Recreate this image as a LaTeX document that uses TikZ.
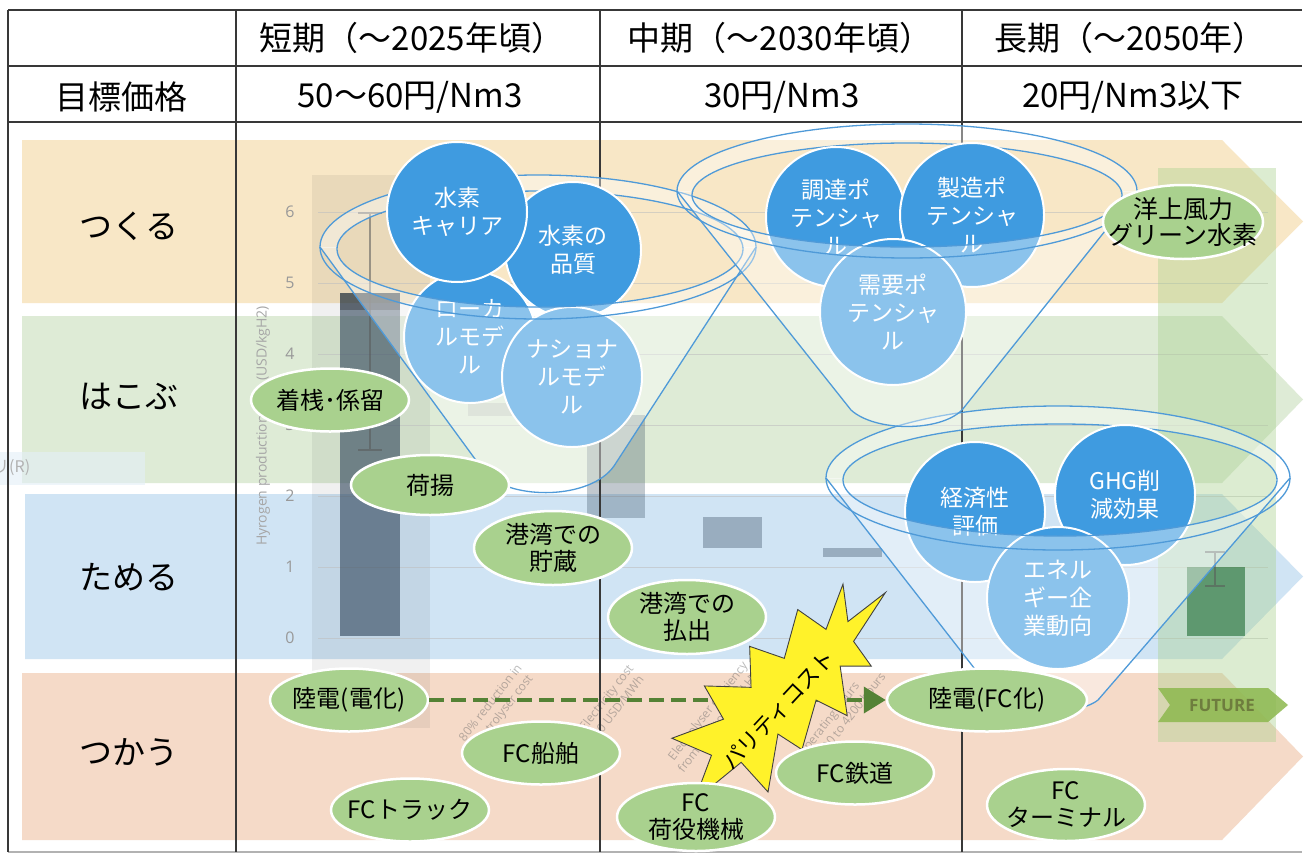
\documentclass[tikz,border=0pt]{standalone}
\usepackage{fontspec}
\setmainfont{Noto Sans CJK JP}
\newfontfamily\latfont{Open Sans}
\usetikzlibrary{arrows.meta,shapes.geometric}
\definecolor{bbeige}{HTML}{F8E7C6}
\definecolor{bgreen}{HTML}{DEEBD6}
\definecolor{bblue}{HTML}{D0E4F4}
\definecolor{bpeach}{HTML}{F5DAC8}
\definecolor{cblue}{HTML}{3F9BE0}
\definecolor{fline}{HTML}{4F9AD8}
\definecolor{egreen}{HTML}{A9D18E}
\definecolor{dgreen}{HTML}{548235}
\definecolor{slate}{HTML}{34495E}
\definecolor{burstyellow}{HTML}{FFF22A}
\definecolor{futgreen}{HTML}{8CB84E}
\definecolor{futtext}{HTML}{6E7D3E}
\definecolor{bargreen}{HTML}{1E6B32}
\begin{document}
\begin{tikzpicture}[x=1pt,y=-1pt,
  tline/.style={draw=black!78, line width=1.3pt},
  hdr/.style={font=\fontsize{33}{38}\selectfont, inner sep=0pt},
  blabel/.style={font=\fontsize{33}{38}\selectfont, inner sep=0pt},
  fun/.style={draw=fline, line width=1.3pt},
  funfill/.style={fill=white, fill opacity=0.4, even odd rule},
  circ/.style={circle, fill=cblue, draw=white, line width=2pt, text=white, inner sep=0pt, align=center, minimum size=140pt, font=\fontsize{23}{28}\selectfont},
  gell/.style={ellipse, fill=egreen, draw=white, line width=2.5pt, inner xsep=-12pt, inner ysep=0pt, align=center, minimum width=158pt, minimum height=63pt, font=\fontsize{24}{27}\selectfont},
  darr/.style={draw=dgreen, line width=4pt, dash pattern=on 15pt off 7pt, -{Triangle[length=22pt,width=26pt]}},
  chartlbl/.style={font=\latfont\fontsize{12}{15}\selectfont, text=black!60, text opacity=0.45, align=center, rotate=52},
  ticklbl/.style={font=\latfont\fontsize{16}{18}\selectfont, text=black!40},
  gridln/.style={draw=black!25, line width=1pt, opacity=0.6},
  errbar/.style={draw=black!65, line width=1.6pt, opacity=0.55},
  burststyle/.style={fill=burstyellow, draw=black!75, line width=0.9pt}
]
\useasboundingbox (0,0) rectangle (1308,854);
\fill[white] (0,0) rectangle (1308,854);

% ---------- bands ----------
\fill[bbeige] (22,140) -- (1222,140) -- (1303,221.5) -- (1222,303) -- (22,303) -- cycle;
\fill[bgreen] (22,316) -- (1222,316) -- (1303,399.5) -- (1222,483) -- (22,483) -- cycle;
\fill[bblue] (25,494) -- (1222,494) -- (1303,576.5) -- (1222,659) -- (25,659) -- cycle;
\fill[bpeach] (22,673) -- (1222,673) -- (1303,756.5) -- (1222,840) -- (22,840) -- cycle;

% faint box at left
\fill[bblue!60!white, opacity=0.6] (0,452) rectangle (145,485);
\node[anchor=west, font=\fontsize{16}{18}\selectfont, text=black!30, inner sep=0pt] (rmark) at (-7,468) {リ(R)};

% ---------- faded chart ----------
\fill[black, opacity=0.06] (312,175) rectangle (430,728);
\foreach \yy in {212,283,354,425,496,567,638} \draw[gridln] (318,\yy) -- (1268,\yy);
\foreach \v/\yy in {0/638,1/567,2/496,3/425,4/354,5/283,6/212} \node[ticklbl] (tk\v) at (290,\yy) {\v};
\node[font=\latfont\fontsize{14}{16}\selectfont, text=black!35, rotate=90] (ytitle) at (263,426) {Hyrogen production cost (USD/kgH2)};
\fill[slate, opacity=0.62] (340,293) rectangle (400,636);
\fill[black, opacity=0.25] (340,293) rectangle (400,310);
\draw[errbar] (370,213) -- (370,450) (358,213) -- (382,213) (358,450) -- (382,450);
\fill[black!40, opacity=0.3] (468,403) rectangle (512,416);
\fill[slate, opacity=0.3] (587,415) rectangle (645,518);
\fill[slate, opacity=0.35] (703,517) rectangle (762,548);
\fill[slate, opacity=0.35] (823,548) rectangle (882,557);
\fill[egreen, opacity=0.4] (1158,168) rectangle (1276,742);
\fill[bargreen, opacity=0.6] (1187,567) rectangle (1245,636);
\draw[errbar] (1215,552) -- (1215,586) (1205,552) -- (1225,552) (1205,586) -- (1225,586);
\fill[futgreen, opacity=0.85] (1158,688) -- (1268,688) -- (1288,705) -- (1268,722) -- (1158,722) -- (1170,705) -- cycle;
\node[font=\latfont\bfseries\fontsize{17}{19}\selectfont, text=futtext] (future) at (1222,706) {FUTURE};
\node[chartlbl] (cl1) at (497,708) {80\% reduction in\\electrolyser cost};
\node[chartlbl] (cl2) at (612,702) {Electricity cost\\20 USD/MWh};
\node[chartlbl] (cl3) at (714,716) {Electrolyser efficiency\\from 65\% to 76\% (LHV)};
\node[chartlbl] (cl4) at (834,724) {Operating hours\\from 3200 to 4200 hours};

% ---------- table ----------
\draw[tline] (8,10) -- (1302,10);
\draw[tline] (8,66) -- (1302,66);
\draw[tline] (8,122) -- (1302,122);
\draw[draw=black!30, line width=1.3pt] (8,852) -- (1302,852);
\draw[tline] (8,10) -- (8,852);
\draw[tline] (236,10) -- (236,852);
\draw[tline] (600,10) -- (600,852);
\draw[tline] (962,10) -- (962,852);

\node[hdr] (h1) at (412,38) {短期（～2025年頃）};
\node[hdr] (h2) at (780,38) {中期（～2030年頃）};
\node[hdr] (h3) at (1130,38) {長期（～2050年）};
\node[hdr] (r0) at (121,97) {目標価格};
\node[hdr] (r1) at (410,97) {50～60円/Nm3};
\node[hdr] (r2) at (782,97) {30円/Nm3};
\node[hdr] (r3) at (1133,97) {20円/Nm3以下};

\node[blabel] (lb1) at (129,226) {つくる};
\node[blabel] (lb2) at (129,396) {はこぶ};
\node[blabel] (lb3) at (129,577) {ためる};
\node[blabel] (lb4) at (129,752) {つかう};

% ---------- funnels: back halves ----------
\begin{scope}
  \clip (0,0) rectangle (1308,247);
  \fill[funfill] (320,247) .. controls (320,207.2) and (417.6,175) .. (538,175) .. controls (658.4,175) and (756,207.2) .. (756,247) -- (614,466) .. controls (590,500) and (512,500) .. (486,474) -- cycle (540,249) ellipse [x radius=203, y radius=58];
  \draw[fun] (538,247) ellipse [x radius=218, y radius=72];
  \draw[fun] (540,249) ellipse [x radius=203, y radius=58];
\end{scope}
\begin{scope}
  \clip (0,0) rectangle (1308,191);
  \fill[funfill] (677,191) .. controls (677,154) and (780,124) .. (907,124) .. controls (1034,124) and (1137,154) .. (1137,191) -- (962,410) .. controls (940,432) and (875,432) .. (851,410) -- cycle (907,195) ellipse [x radius=215, y radius=52];
  \draw[fun] (907,191) ellipse [x radius=230, y radius=67];
  \draw[fun] (907,195) ellipse [x radius=215, y radius=52];
\end{scope}
\begin{scope}
  \clip (0,0) rectangle (1308,478);
  \fill[funfill] (826,478) .. controls (826,438.2) and (930,406) .. (1058,406) .. controls (1186,406) and (1290,438.2) .. (1290,478) -- (1098,700) .. controls (1075,718) and (1005,715) .. (985,682) -- cycle (1060,480) ellipse [x radius=217, y radius=56];
  \draw[fun] (1058,478) ellipse [x radius=232, y radius=72];
  \draw[fun] (1060,480) ellipse [x radius=217, y radius=56];
\end{scope}

% ---------- circles ----------
\node[circ, minimum size=132pt] (c1) at (470,337) {ローカ\\ルモデ\\ル};
\node[circ, minimum size=136pt] (c2) at (573,250) {水素の\\品質};
\node[circ] (c3) at (572,377) {ナショナ\\ルモデ\\ル};
\node[circ] (c4) at (457,212) {水素\\キャリア};
\node[circ] (c5) at (836,217) {調達ポ\\テンシャ\\ル};
\node[circ, minimum size=144pt] (c6) at (972,215) {製造ポ\\テンシャ\\ル};
\node[circ, minimum size=146pt] (c7) at (893,312) {需要ポ\\テンシャ\\ル};
\node[circ] (c8) at (975,512) {経済性\\評価};
\node[circ] (c9) at (1125,495) {GHG削\\減効果};
\node[circ, minimum size=142pt] (c10) at (1058,598) {エネル\\ギー企\\業動向};

% ---------- funnels: front halves ----------
\begin{scope}
  \clip (0,247) rectangle (1308,854);
  \fill[funfill] (320,247) .. controls (320,207.2) and (417.6,175) .. (538,175) .. controls (658.4,175) and (756,207.2) .. (756,247) -- (614,466) .. controls (590,500) and (512,500) .. (486,474) -- cycle (540,249) ellipse [x radius=203, y radius=58];
  \draw[fun] (538,247) ellipse [x radius=218, y radius=72];
  \draw[fun] (540,249) ellipse [x radius=203, y radius=58];
  \draw[fun] (756,247) -- (614,466) .. controls (590,500) and (512,500) .. (486,474) -- (320,247);
\end{scope}
\begin{scope}
  \clip (0,191) rectangle (1308,854);
  \fill[funfill] (677,191) .. controls (677,154) and (780,124) .. (907,124) .. controls (1034,124) and (1137,154) .. (1137,191) -- (962,410) .. controls (940,432) and (875,432) .. (851,410) -- cycle (907,195) ellipse [x radius=215, y radius=52];
  \draw[fun] (907,191) ellipse [x radius=230, y radius=67];
  \draw[fun] (907,195) ellipse [x radius=215, y radius=52];
  \draw[fun] (1137,191) -- (962,410) .. controls (940,432) and (875,432) .. (851,410) -- (677,191);
\end{scope}
\begin{scope}
  \clip (0,478) rectangle (1308,854);
  \fill[funfill] (826,478) .. controls (826,438.2) and (930,406) .. (1058,406) .. controls (1186,406) and (1290,438.2) .. (1290,478) -- (1098,700) .. controls (1075,718) and (1005,715) .. (985,682) -- cycle (1060,480) ellipse [x radius=217, y radius=56];
  \draw[fun] (1058,478) ellipse [x radius=232, y radius=72];
  \draw[fun] (1060,480) ellipse [x radius=217, y radius=56];
  \draw[fun] (1290,478) -- (1098,700) .. controls (1075,718) and (1005,715) .. (985,682) -- (826,478);
\end{scope}

% ---------- green ellipses ----------
\node[gell] (e1) at (330,400) {着桟･係留};
\node[gell, minimum height=60pt] (e2) at (430,485) {荷揚};
\node[gell, minimum height=74pt] (e3) at (553,548) {港湾での\\貯蔵};
\node[gell, minimum height=74pt] (e4) at (687,617) {港湾での\\払出};
\node[gell] (e5) at (349,700) {陸電(電化)};
\node[gell] (e6) at (541,753) {FC船舶};
\node[gell] (e7) at (410,810) {FCトラック};
\node[gell, minimum width=200pt] (e10) at (987,700) {陸電(FC化)};
\node[gell, minimum height=72pt] (e11) at (1066,805) {FC\\ターミナル};
\node[gell, minimum width=160pt, minimum height=74pt, inner xsep=-26pt, font=\fontsize{25}{26}\selectfont] (e12) at (1183,222) {洋上風力\\グリーン水素};

% ---------- dashed arrow ----------
\draw[darr] (e5.east) -- (e10.west);

% ---------- burst ----------
\begin{scope}[shift={(785,693)}, rotate=45]
  \draw[burststyle] (142,0) -- (85,12) -- (80,42) -- (58,20) -- (28,60) -- (17,27) -- (-28,52) -- (-34,24) -- (-82,58) -- (-80,18) -- (-140,12) -- (-96,-8) -- (-112,-48) -- (-62,-25) -- (-52,-62) -- (-20,-28) -- (8,-58) -- (24,-25) -- (68,-50) -- (74,-16) -- (118,-36) -- (95,-6) -- cycle;
\end{scope}
\node[rotate=47, font=\fontsize{22}{24}\selectfont, inner sep=0pt] (parity) at (779,710) {パリティコスト};

\node[gell, minimum height=68pt, inner ysep=-3pt] (e8) at (696,817) {FC\\荷役機械};
\node[gell] (e9) at (855,773) {FC鉄道};
\end{tikzpicture}
\end{document}
